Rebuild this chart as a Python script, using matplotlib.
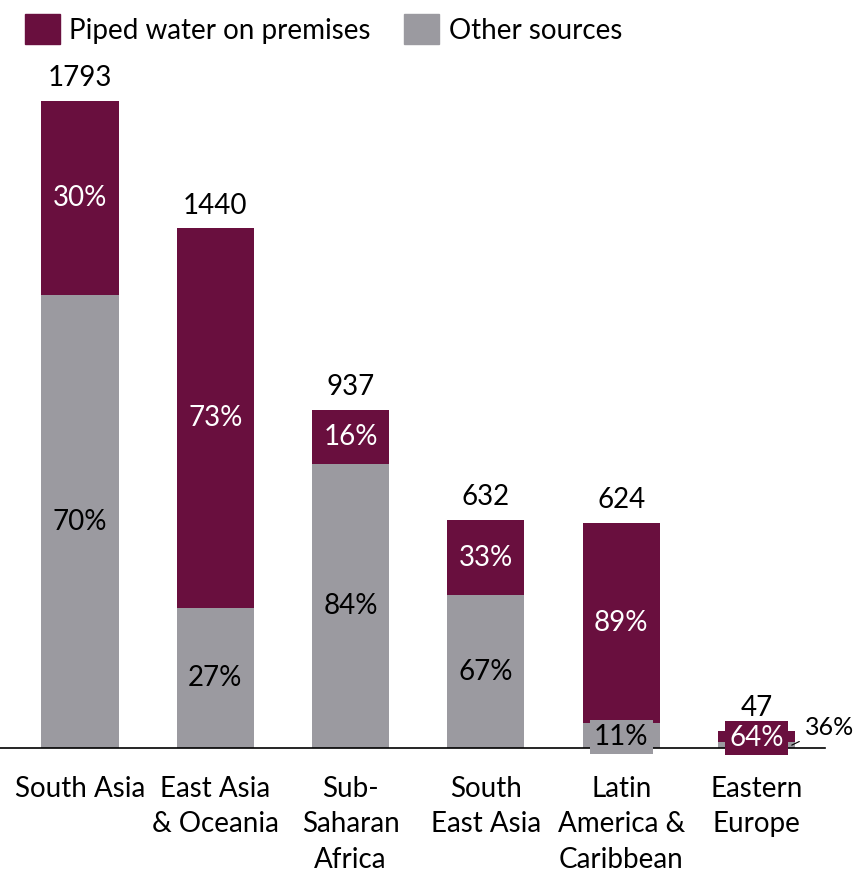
import numpy as np
import matplotlib
matplotlib.use("Agg")
import matplotlib.pyplot as plt
from matplotlib.patches import Patch

plt.rcParams['font.family'] = ['Lato', 'DejaVu Sans']

regions = ["South Asia", "East Asia\n& Oceania", "Sub-\nSaharan\nAfrica", "South\nEast Asia",
           "Latin\nAmerica &\nCaribbean", "Eastern\nEurope"]
totals = [1793, 1440, 937, 632, 624, 47]
piped_pct = [30, 73, 16, 33, 89, 64]
other_pct = [70, 27, 84, 67, 11, 36]

purple = '#690F3E'
grey = '#9B9AA0'
fs = 20

totals_arr = np.array(totals, dtype=float)
other_vals = totals_arr * np.array(other_pct) / 100
piped_vals = totals_arr * np.array(piped_pct) / 100
x = np.arange(len(regions))

fig = plt.figure(figsize=(8.56, 8.75), dpi=100)
ax = fig.add_axes([0, 0.1451, 0.9638, 0.7977])

width = 0.57
ax.bar(x, other_vals, width, color=grey, label='Other sources')
ax.bar(x, piped_vals, width, bottom=other_vals, color=purple, label='Piped water on premises')

ax.set_xlim(-0.591, 5.506)
ax.set_ylim(0, 1934)

for i in range(len(regions)):
    ax.annotate(str(totals[i]), (x[i], totals[i]), xytext=(0, 7), textcoords='offset points',
                ha='center', va='bottom', fontsize=fs)
    if i < 4:
        ax.text(x[i], other_vals[i] / 2, f"{other_pct[i]}%", ha='center', va='center', fontsize=fs)
        ax.text(x[i], other_vals[i] + piped_vals[i] / 2, f"{piped_pct[i]}%", ha='center', va='center',
                fontsize=fs, color='white')

# Latin America: small grey segment with boxed label
ax.text(x[4], other_vals[4] + piped_vals[4] / 2, f"{piped_pct[4]}%", ha='center', va='center',
        fontsize=fs, color='white')
ax.text(x[4], 30, f"{other_pct[4]}%", ha='center', va='center', fontsize=fs,
        bbox=dict(boxstyle='square,pad=0.15', fc=grey, ec='none'))

# Eastern Europe: tiny bar, boxed label and leader line
ax.text(x[5], 28, f"{piped_pct[5]}%", ha='center', va='center', fontsize=fs, color='white',
        bbox=dict(boxstyle='square,pad=0.15', fc=purple, ec='none'))
ax.annotate(f"{other_pct[5]}%", xy=(x[5] + 0.26, 8), xytext=(x[5] + 0.355, 58),
            ha='left', va='center', fontsize=18, annotation_clip=False,
            arrowprops=dict(arrowstyle='-', color='black', lw=0.8, shrinkA=2, shrinkB=0))

for s in ['top', 'right', 'left']:
    ax.spines[s].set_visible(False)
ax.spines['bottom'].set_linewidth(1.2)
ax.set_yticks([])
ax.set_xticks(x)
ax.set_xticklabels(regions, fontsize=fs, linespacing=1.45)
ax.tick_params(axis='x', length=0, pad=20)

handles = [Patch(color=purple, label='Piped water on premises'), Patch(color=grey, label='Other sources')]
fig.legend(handles=handles, loc='upper left', bbox_to_anchor=(0.0, 1.012), ncol=2, frameon=False,
           fontsize=fs, handlelength=1.25, handleheight=1.25, handletextpad=0.35, columnspacing=1.2)

plt.savefig("out.png", dpi=100)
